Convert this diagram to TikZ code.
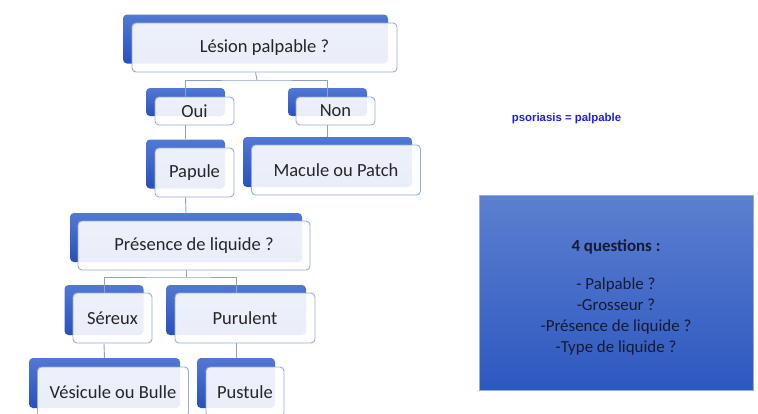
\documentclass[tikz,border=0pt]{standalone}
\usepackage{fontspec}
\setmainfont{Carlito}
\newfontfamily\arialfont{Liberation Sans}
\definecolor{boxdark}{RGB}{82,120,212}
\definecolor{boxdeep}{RGB}{40,80,190}
\definecolor{boxline}{RGB}{150,170,222}
\definecolor{linkline}{RGB}{140,160,214}
\definecolor{boxtext}{RGB}{38,38,38}
\definecolor{notetext}{RGB}{30,30,230}
\definecolor{paneltop}{RGB}{92,127,208}
\definecolor{panelbot}{RGB}{45,88,192}
\definecolor{paneltext}{RGB}{22,26,52}
\tikzset{
  back/.style={rounded corners=4pt, top color=boxdark, bottom color=boxdeep, draw=none},
  front/.style={rounded corners=4pt, fill=white, fill opacity=0.9, text opacity=1,
    draw=boxline, line width=0.9pt, text=boxtext,
    font=\fontsize{18.5}{22}\selectfont},
  link/.style={draw=linkline, line width=0.9pt}
}
\begin{document}
\begin{tikzpicture}[x=1pt,y=-1pt]
        \clip (0,0) rectangle (758,413);

        % junctions of the links
        \coordinate (lesionJ) at (257,80);
        \coordinate (presJ) at (186,277);

        \node[back, minimum width=265, minimum height=49] (lesionB) at (255.5,39) {};
        \node[front, minimum width=265, minimum height=49] (lesion) at (264.5,47.5) {Lésion palpable ?};

        \node[back, minimum width=79, minimum height=28] (ouiB) at (185.5,102) {};
        \node[front, minimum width=79, minimum height=28] (oui) at (194.5,111) {Oui};
        \node[back, minimum width=79, minimum height=28] (nonB) at (327.5,102) {};
        \node[front, minimum width=79, minimum height=28] (non) at (335.5,111) {Non};

        \node[back, minimum width=79, minimum height=49] (papuleB) at (185.5,164) {};
        \node[front, minimum width=79, minimum height=49] (papule) at (194.5,172.5) {Papule};
        \node[back, minimum width=169, minimum height=50] (maculeB) at (327.5,162) {};
        \node[front, minimum width=169, minimum height=50] (macule) at (336,170) {Macule ou Patch};

        \node[back, minimum width=232, minimum height=49] (presB) at (186,237.5) {};
        \node[front, minimum width=232, minimum height=49] (pres) at (194,245.5) {Présence de liquide ?};

        \node[back, minimum width=79, minimum height=50] (sereuxB) at (104,310) {};
        \node[front, minimum width=79, minimum height=50] (sereux) at (112.5,318) {Séreux};
        \node[back, minimum width=140, minimum height=50] (purulB) at (236,310) {};
        \node[front, minimum width=140, minimum height=50] (purul) at (245,318) {Purulent};

        \node[back, minimum width=151, minimum height=50] (vesicB) at (104.5,383) {};
        \node[front, minimum width=151, minimum height=50] (vesic) at (113,392) {Vésicule ou Bulle};
        \node[back, minimum width=78, minimum height=50] (pustB) at (236,383) {};
        \node[front, minimum width=78, minimum height=50] (pust) at (245,392) {Pustule};

        % links
        \draw[link] (lesionB |- lesion.south) -- (lesionJ);
        \draw[link] (ouiB |- oui.north) |- (lesionJ) -| (nonB |- non.north);
        \draw[link] (ouiB |- oui.south) -- (papuleB.north);
        \draw[link] (nonB |- non.south) -- (maculeB.north);
        \draw[link] (papuleB |- papule.south) -- (presB.north);
        \draw[link] (presB |- pres.south) -- (presJ);
        \draw[link] (sereuxB |- sereux.north) |- (presJ) -| (purulB |- purul.north);
        \draw[link] (sereuxB |- sereux.south) -- (vesicB.north);
        \draw[link] (purulB |- purul.south) -- (pustB.north);

        \node[text=notetext, font=\arialfont\bfseries\fontsize{11.4}{13}\selectfont] (note) at (566.5,119) {psoriasis = palpable};

        \node[top color=paneltop, bottom color=panelbot, draw=boxline, line width=0.6pt,
              minimum width=274, minimum height=195] (panel) at (616,292.5) {};
        \node[align=center, text=paneltext, font=\fontsize{16.9}{21}\selectfont] (panelText)
              at ([yshift=-4.5pt]panel.center)
              {\textbf{4 questions :}\\[17pt]- Palpable ?\\-Grosseur ?\\-Présence de liquide ?\\-Type de liquide ?};
    \end{tikzpicture}
\end{document}
